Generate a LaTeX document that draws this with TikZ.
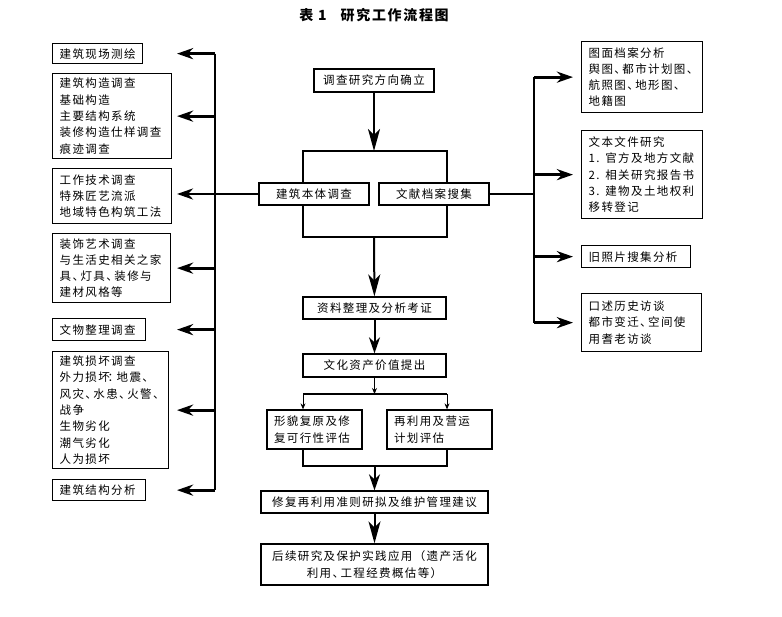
\documentclass[tikz,border=0pt]{standalone}
\usepackage{fontspec}
\setmainfont{Noto Sans CJK SC}[LetterSpace=12]
\usetikzlibrary{arrows.meta, positioning, backgrounds}
\newcommand{\cjkdun}{、\kern-0.3em}
\tikzset{
  box/.style={rectangle, draw=black, line width=1.3pt, fill=white, align=left, inner xsep=7pt, inner ysep=2pt, font=\fontsize{11.5}{16.3}\selectfont},
  sidebox/.style={box, anchor=north west},
  midbox/.style={box, align=center},
  arrow/.style={-{Stealth[length=16pt, width=11pt, inset=5pt]}, line width=2pt},
  longarrow/.style={-{Stealth[length=22pt, width=12pt, inset=6pt]}, line width=2pt},
  sidearrow/.style={arrow, line width=2.8pt},
  bus/.style={line width=2.8pt},
  frame/.style={line width=2.2pt},
  forkline/.style={line width=1.6pt},
  tinyarrow/.style={-{Stealth[length=6pt, width=5pt]}, line width=0.8pt},
}
\begin{document}
\begin{tikzpicture}[x=1pt, y=-1pt]
  \useasboundingbox (0,0) rectangle (782,617);
  \node[font=\bfseries\fontsize{14}{16}\selectfont] (title) at (374,15) {表 1\quad 研究工作流程图};

  % centre column
  \node[midbox, minimum width=120pt, minimum height=23pt] (dir) at (374,80.5) {调查研究方向确立};
  \node[midbox, minimum width=110pt, minimum height=22pt] (body) at (314,194) {建筑本体调查};
  \node[midbox, minimum width=110pt, minimum height=22pt] (docs) at (434,194) {文献档案搜集};
  \node[midbox, minimum width=143pt, minimum height=22pt] (sort) at (374.5,308) {资料整理及分析考证};
  \node[midbox, minimum width=143pt, minimum height=23pt] (value) at (374.5,365.5) {文化资产价值提出};
  \node[box, text width=81pt, minimum height=39pt] (restore) at (314.5,429.5) {形貌复原及修\\复可行性评估};
  \node[box, text width=91pt, minimum height=39pt] (reuse) at (439.5,429.5) {再利用及营运\\计划评估};
  \node[midbox, minimum width=227pt, minimum height=22pt] (guide) at (374.5,502) {修复再利用准则研拟及维护管理建议};
  \node[midbox, minimum width=227pt, minimum height=41pt] (follow) at (374.5,564.5) {后续研究及保护实践应用（遗产活化\\利用\cjkdun 工程经费概估等）};

  % left column
  \node[sidebox, text width=76pt, minimum height=20pt] (site) at (52,43) {建筑现场测绘};
  \node[sidebox, text width=105pt, minimum height=85pt] (constr) at (52,73) {建筑构造调查\\基础构造\\主要结构系统\\装修构造仕样调查\\痕迹调查};
  \node[sidebox, text width=105pt, minimum height=55pt] (tech) at (52,168) {工作技术调查\\特殊匠艺流派\\地域特色构筑工法};
  \node[sidebox, text width=104pt, minimum height=69pt] (deco) at (52,233) {装饰艺术调查\\与生活史相关之家\\具\cjkdun 灯具\cjkdun 装修与\\建材风格等};
  \node[sidebox, text width=79pt, minimum height=22pt] (relic) at (52,318) {文物整理调查};
  \node[sidebox, text width=102pt, minimum height=117pt] (damage) at (52,351) {建筑损坏调查\\外力损坏\kern-0.2em：\kern-0.2em 地震\cjkdun\\风灾\cjkdun 水患\cjkdun 火警\cjkdun\\战争\\生物劣化\\潮气劣化\\人为损坏};
  \node[sidebox, text width=79pt, minimum height=21pt] (struct) at (52,479) {建筑结构分析};

  % right column
  \node[sidebox, text width=107pt, minimum height=71pt] (maps) at (581,41) {图面档案分析\\舆图\cjkdun 都市计划图\cjkdun\\航照图\cjkdun 地形图\cjkdun\\地籍图};
  \node[sidebox, text width=107pt, minimum height=88pt] (texts) at (581,130) {文本文件研究\\1. 官方及地方文献\\2. 相关研究报告书\\3. 建物及土地权利\\移转登记};
  \node[sidebox, text width=95pt, minimum height=22pt] (photo) at (581,245) {旧照片搜集分析};
  \node[sidebox, text width=106pt, minimum height=58pt] (oral) at (581,293) {口述历史访谈\\都市变迁\cjkdun 空间使\\用耆老访谈};

  \coordinate (split) at (374,151);
  \coordinate (join) at (374,237);
  \coordinate (frameNW) at (303,151);
  \coordinate (frameSE) at (447,237);
  \coordinate (lbus) at (215,0);
  \coordinate (ltip) at (177,0);
  \coordinate (rbus) at (534,0);
  \coordinate (rtip) at (573,0);
  \coordinate (fork) at (374.5,394);
  \coordinate (forkL) at (303,394);
  \coordinate (forkR) at (447,394);
  \coordinate (lowL) at (303,466);
  \coordinate (lowR) at (447,466);
  \coordinate (low) at (374.5,466);

  \begin{scope}[on background layer]
    \draw[frame] (frameNW) rectangle (frameSE);
  \end{scope}

  \draw[longarrow] (dir) -- (split);
  \draw[longarrow] (join) -- (sort);
  \draw[arrow] (sort) -- (value);
  \draw[tinyarrow] (value) -- (fork);
  \draw[forkline] (forkL) -- (forkR);
  \draw[tinyarrow] (forkL) -- (forkL |- restore.north);
  \draw[tinyarrow] (forkR) -- (forkR |- reuse.north);
  \draw[forkline] (forkL |- restore.south) -- (lowL) -- (lowR) -- (forkR |- reuse.south);
  \draw[arrow] (low) -- (guide);
  \draw[longarrow] (guide) -- (follow);

  % left branch
  \draw[bus] (body.west) -- (lbus |- body.west);
  \draw[bus] (lbus |- site.east) -- (lbus |- struct.east);
  \draw[sidearrow] (lbus |- site.east) -- (ltip |- site.east);
  \draw[sidearrow] (lbus |- constr.east) -- (ltip |- constr.east);
  \draw[sidearrow] (lbus |- body.west) -- (ltip |- body.west);
  \draw[sidearrow] (lbus |- deco.east) -- (ltip |- deco.east);
  \draw[sidearrow] (lbus |- relic.east) -- (ltip |- relic.east);
  \draw[sidearrow] (lbus |- damage.east) -- (ltip |- damage.east);
  \draw[sidearrow] (lbus |- struct.east) -- (ltip |- struct.east);

  % right branch
  \draw[bus] (docs.east) -- (rbus |- docs.east);
  \draw[bus] (rbus |- maps.west) -- (rbus |- oral.west);
  \draw[sidearrow] (rbus |- maps.west) -- (rtip |- maps.west);
  \draw[sidearrow] (rbus |- texts.west) -- (rtip |- texts.west);
  \draw[sidearrow] (rbus |- photo.west) -- (rtip |- photo.west);
  \draw[sidearrow] (rbus |- oral.west) -- (rtip |- oral.west);
\end{tikzpicture}
\end{document}
